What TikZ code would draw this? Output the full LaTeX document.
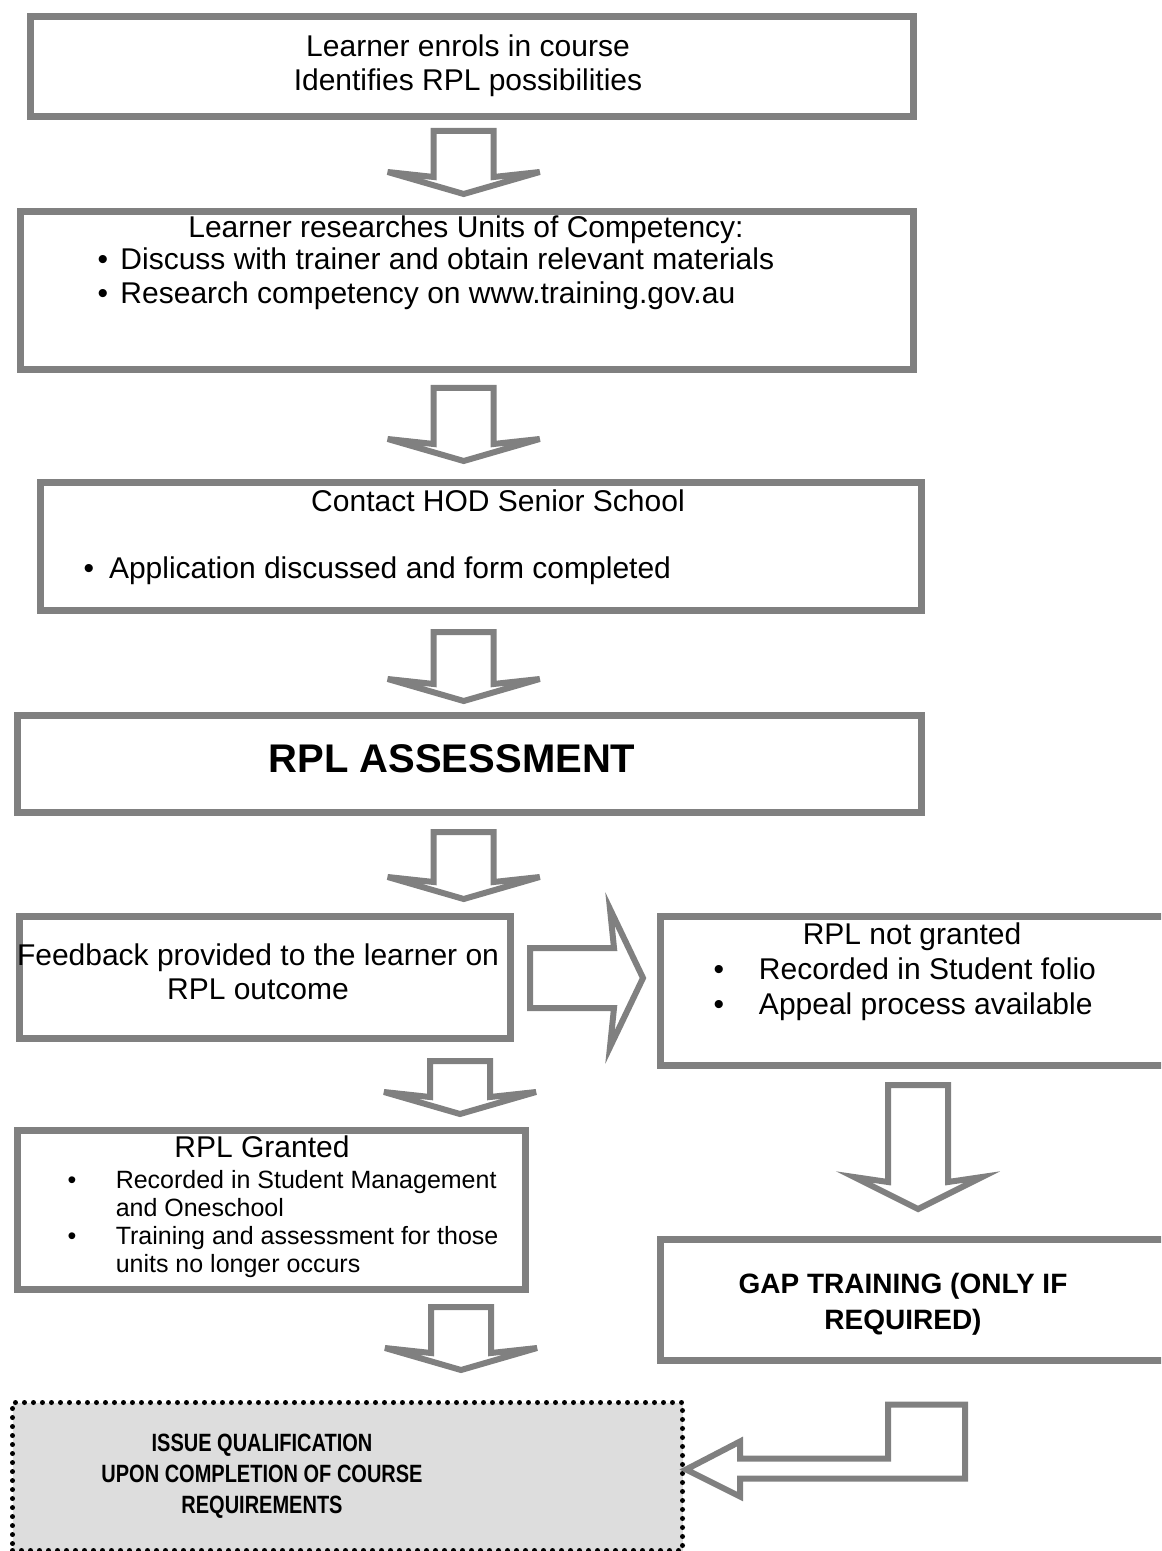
\documentclass[tikz,border=0pt]{standalone}
\usepackage{fontspec}
\setmainfont{Liberation Sans}
\newfontfamily\narrowfont[FakeStretch=0.8]{Liberation Sans}
\usetikzlibrary{calc}

\definecolor{boxgray}{RGB}{128,128,128}
\definecolor{qualfill}{RGB}{221,221,221}

% hollow block arrow pointing down: [wing] from, to, x, top gap, tip gap, head length
\newcommand{\blockdown}[7][46]{%
  \draw[blockarr]
    ($(#4,0 |- #2.south)+(-30,#5)$) -- ($(#4,0 |- #3.north)+(-30,5-#6-#7)$)
    -- ++(-#1,-5) -- ($(#4,0 |- #3.north)+(0,-#6)$)
    -- ($(#4,0 |- #3.north)+(30+#1,-#6-#7)$) -- ++(-#1,5)
    -- ($(#4,0 |- #2.south)+(30,#5)$) -- cycle;}

\begin{document}
\begin{tikzpicture}[x=0.4pt, y=-0.4pt,
  box/.style={draw=boxgray, line width=2.8pt, fill=white, inner sep=0pt, anchor=north west},
  qualbox/.style={draw=black, fill=qualfill, line width=2pt, line cap=round,
    dash pattern=on 0pt off 3.6pt, inner sep=0pt, anchor=north west},
  wd/.style={minimum width=#1*0.4pt},
  ht/.style={minimum height=#1*0.4pt},
  blockarr/.style={draw=boxgray, line width=2.4pt, fill=white},
  txt/.style={inner sep=0pt, align=center, font=\fontsize{12}{13.4}\selectfont},
  lst/.style={inner sep=0pt, anchor=west, align=left, font=\fontsize{12}{13.6}\selectfont},
  small/.style={inner sep=0pt, anchor=west, align=left, font=\fontsize{10}{11.2}\selectfont},
  headtxt/.style={inner sep=0pt, align=center, font=\bfseries\fontsize{11.2}{14.4}\selectfont},
  qualtxt/.style={inner sep=0pt, align=center, font=\narrowfont\bfseries\fontsize{10}{12.4}\selectfont}
]
\useasboundingbox (0,0) rectangle (1161,1551);
\clip (0,0) rectangle (1161,1551);

\node[box, wd=883, ht=100] (b1) at (26.5,13.5) {};
\node[box, wd=893, ht=158] (b2) at (16.5,208.5) {};
\node[box, wd=881, ht=128] (b3) at (36.5,478.5) {};
\node[box, wd=904, ht=97] (b4) at (13.5,711.5) {};
\node[box, wd=491, ht=122] (b5) at (15.5,912.5) {};
\node[box, wd=520, ht=149] (b7) at (656.5,912.5) {};
\node[box, wd=508, ht=159] (b6) at (13.5,1126.5) {};
\node[box, wd=520, ht=121] (b8) at (656.5,1235.5) {};
\node[qualbox, wd=670, ht=148] (b9) at (10,1400) {};

\node[txt] (t1) at (468,66) {Learner enrols in course\\Identifies RPL possibilities};
\node[txt] (t2) at (466,230) {Learner researches Units of Competency:};
\node[lst] (l2) at (97,280) {\begin{tabular}{@{}l@{\hspace{5pt}}l@{}}
  \textbullet & Discuss with trainer and obtain relevant materials\\
  \textbullet & Research competency on www.training.gov.au\end{tabular}};
\node[txt] (t3) at (498,501) {Contact HOD Senior School};
\node[lst] (l3) at (83,571) {\textbullet\hspace{6pt}Application discussed and form completed};
\node[txt, font=\bfseries\fontsize{16}{19}\selectfont] (t4) at (452,759) {RPL ASSESSMENT};
\node[txt] (t5) at (258,972) {Feedback provided to the learner on\\RPL outcome};
\node[txt] (t7) at (912,937) {RPL not granted};
\node[lst, font=\fontsize{12}{14}\selectfont] (l7) at (713,989.5) {\begin{tabular}{@{}l@{\hspace{14pt}}l@{}}
  \textbullet & Recorded in Student folio\\
  \textbullet & Appeal process available\end{tabular}};
\node[txt] (t6) at (262,1147) {RPL Granted};
\node[small] (l6) at (67,1225) {\begin{tabular}{@{}l@{\hspace{15.8pt}}l@{}}
  \textbullet & Recorded in Student Management\\
   & and Oneschool\\
  \textbullet & Training and assessment for those\\
   & units no longer occurs\end{tabular}};
\node[headtxt] (t8) at (903,1304.5) {GAP TRAINING (ONLY IF\\REQUIRED)};
\node[qualtxt] (t9) at (262,1476) {ISSUE QUALIFICATION\\UPON COMPLETION OF COURSE\\REQUIREMENTS};

\blockdown{b1}{b2}{463.7}{10.5}{14.5}{22}
\blockdown{b2}{b3}{463.7}{14.5}{17.5}{22}
\blockdown{b3}{b4}{463.7}{18.5}{10.5}{22}
\blockdown{b4}{b5}{463.7}{16.5}{13.5}{22}
\blockdown{b5}{b6}{460}{19.5}{12.5}{22}
\blockdown{b6}{b9}{461}{14.5}{30}{22}
\blockdown[34]{b7}{b8}{918}{16.5}{26.5}{32}

\draw[blockarr] ($(b5.east |- 0,948)+(16.5,0)$) -- ($(b7.west |- 0,948)+(-42.5,0)$)
  -- ++(-4,-39) -- ($(b7.west |- 0,978)+(-13.5,0)$)
  -- ($(b7.west |- 0,1047)+(-46.5,0)$) -- ++(4,-39)
  -- ($(b5.east |- 0,1008)+(16.5,0)$) -- cycle;

\draw[blockarr] ($(b9.east)+(1,-7)$) coordinate (qtip) -- ++(54,-28) -- ++(0,17)
  -| ($(888,0 |- b8.south)+(0,41)$) -- ++(77,0) |- ($(qtip)+(54,9)$)
  -- ++(0,18) -- cycle;
\end{tikzpicture}
\end{document}
